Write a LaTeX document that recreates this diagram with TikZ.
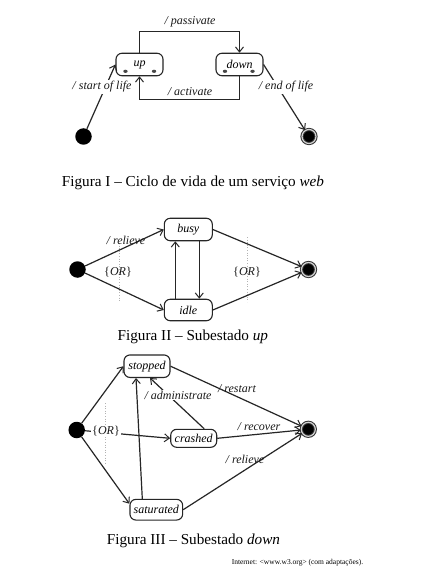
\documentclass[tikz,border=0pt]{standalone}
\usepackage{fontspec}
\setmainfont{Liberation Serif}
\usetikzlibrary{arrows.meta,calc}
\begin{document}
\begin{tikzpicture}[x=1pt,y=-1pt,
  stbox/.style={draw=black!85, line width=1.1pt, rounded corners=6pt, minimum width=47pt, minimum height=22.5pt, inner sep=0pt, font=\fontsize{12}{13}\selectfont\itshape},
  lbl/.style={font=\fontsize{12}{13}\selectfont\itshape, inner sep=1pt, text=black!90},
  wlbl/.style={lbl, fill=white},
  trans/.style={line width=1.2pt, draw=black!85, -{Straight Barb[length=5pt,width=8pt,line width=1pt]}},
  initnode/.style={circle, fill=black, minimum size=16.5pt, inner sep=0pt},
  finalnode/.style={circle, fill=black, draw=black!80, double=gray!35, double distance=1.2pt, line width=1pt, minimum size=14pt, inner sep=0pt},
  captext/.style={font=\fontsize{15.2}{17}\selectfont, inner sep=0pt, anchor=west},
  dotline/.style={gray!60, dotted, line width=0.6pt},
  decdot/.style={fill=gray!55!black}
]
\fill[white] (0,0) rectangle (423,580);
\useasboundingbox (0,0) rectangle (423,580);

% ---------- Figure I ----------
\node[stbox] (up) at (139.5,64.5) {up};
\node[stbox] (down) at (239.5,64.5) {down};
\fill[decdot] ($(up.south west)+(10,-5)$) ellipse (2.2 and 1.6);
\fill[decdot] ($(up.south east)+(-9.5,-5)$) ellipse (2.2 and 1.6);
\fill[decdot] ($(down.south west)+(9.5,-5)$) ellipse (2.2 and 1.6);
\fill[decdot] ($(down.south east)+(-11,-5)$) ellipse (2.2 and 1.6);
\node[initnode] (s1) at (83.5,136.5) {};
\node[finalnode] (f1) at (309,136.5) {};
\draw[trans] (s1) -- (up.west);
\draw[trans] (down.east) -- (f1);
\draw[trans] (up.north) -- ++(0,-21) -| (down.north);
\draw[trans] (down.south) -- ++(0,23.5) -| (up.south);
\node[wlbl] (l1) at (102,87) {/ start of life};
\node[wlbl] (l2) at (286,87) {/ end of life};
\node[lbl] (l3) at (190,21.5) {/ passivate};
\node[lbl] (l4) at (190,92) {/ activate};
\node[captext] (c1) at (61.7,183.3) {Figura I – Ciclo de vida de um serviço \textit{web}};

% ---------- Figure II ----------
\draw[dotline] (119,243) -- (119,302);
\draw[dotline] (247,237) -- (247,302);
\node[initnode] (s2) at (77.5,269.5) {};
\node[stbox, minimum width=48pt] (busy) at (188.3,229.5) {busy};
\node[stbox, minimum width=48pt, minimum height=21.5pt] (idle) at (188.3,310) {idle};
\node[finalnode] (f2) at (308.5,269.5) {};
\draw[trans] (s2) -- (busy.west);
\draw[trans] (s2) -- (idle.west);
\draw[trans] ([xshift=-13pt]idle.north) -- ([xshift=-13pt]busy.south);
\draw[trans] ([xshift=11pt]busy.south) -- ([xshift=11pt]idle.north);
\draw[trans] (busy.east) -- (f2);
\draw[trans] (idle.east) -- (f2);
\node[lbl] (l5) at (126,240) {/ relieve};
\node[lbl] (l6) at (118,272) {{\upshape\{}OR{\upshape\}}};
\node[lbl] (l7) at (247,272) {{\upshape\{}OR{\upshape\}}};
\node[captext] (c2) at (117.5,337) {Figura II – Subestado \textit{up}};

% ---------- Figure III ----------
\draw[dotline] (105,403) -- (105,463);
\node[initnode] (s3) at (76.7,430) {};
\node[stbox, minimum width=46pt] (stopped) at (147,366.2) {stopped};
\node[stbox, minimum width=46pt, minimum height=18pt] (crashed) at (193.7,438.3) {crashed};
\node[stbox, minimum width=52.7pt, minimum height=20.7pt] (saturated) at (156.3,509.7) {saturated};
\node[finalnode] (f3) at (308.3,429.3) {};
\draw[trans] (s3) -- (stopped.west);
\draw[trans] (s3) -- (crashed.west);
\draw[trans] (s3) -- ([yshift=6pt]saturated.west);
\draw[trans] ([xshift=-14pt]saturated.north) -- ([xshift=-11pt]stopped.south);
\draw[trans] ([xshift=10.5pt]crashed.north) -- ([xshift=3pt]stopped.south);
\draw[trans] (stopped.east) -- (f3);
\draw[trans] (crashed.east) -- (f3);
\draw[trans] (saturated.east) -- (f3);
\node[wlbl] (l8) at (106,431) {{\upshape\{}OR{\upshape\}}};
\node[wlbl] (l9) at (178,395) {/ administrate};
\node[lbl] (l10) at (237,389) {/ restart};
\node[lbl] (l11) at (259,427) {/ recover};
\node[lbl] (l12) at (245,459) {/ relieve};
\node[captext] (c3) at (106.7,541) {Figura III – Subestado \textit{down}};

\node[font=\fontsize{7.5}{9}\selectfont, inner sep=0pt] (src) at (297.5,563) {Internet: <www.w3.org> (com adaptações).};
\end{tikzpicture}
\end{document}
